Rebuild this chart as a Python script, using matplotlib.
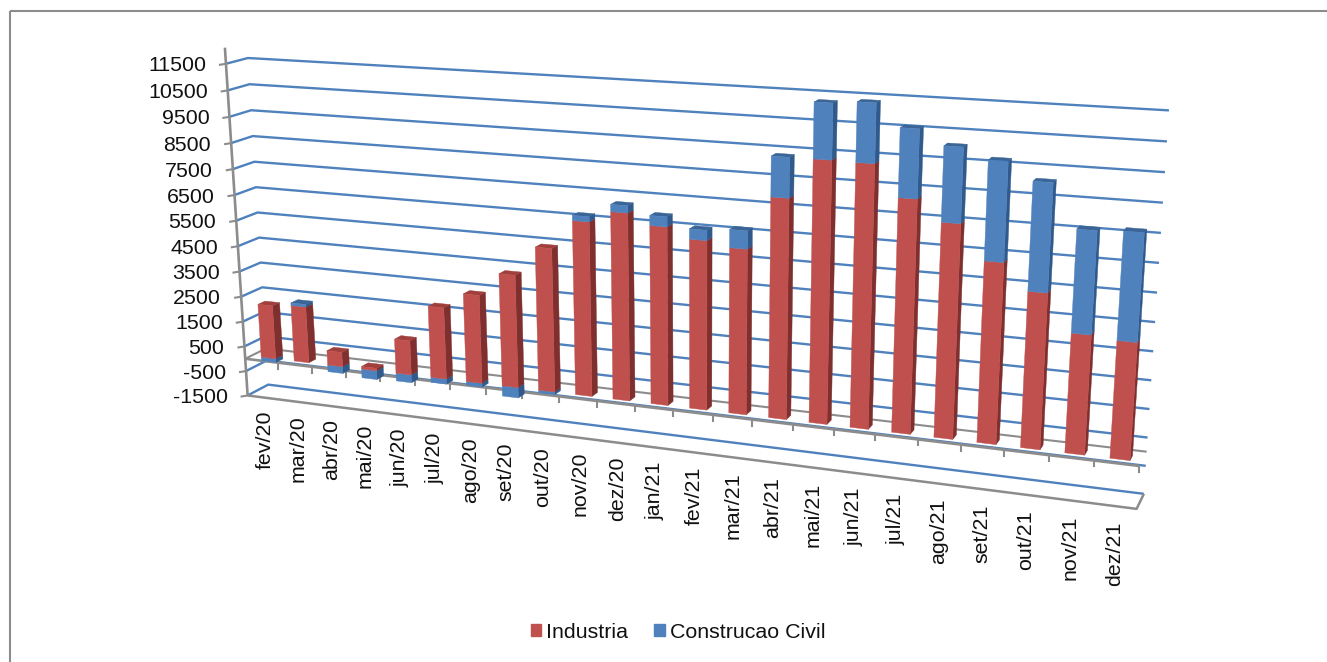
import numpy as np
import matplotlib
matplotlib.use("Agg")
import matplotlib.pyplot as plt
from matplotlib.patches import Patch, Rectangle

plt.rcParams['font.family'] = ['Liberation Sans', 'DejaVu Sans']

categories = ['fev/20','mar/20','abr/20','mai/20','jun/20','jul/20','ago/20','set/20','out/20','nov/20','dez/20',
              'jan/21','fev/21','mar/21','abr/21','mai/21','jun/21','jul/21','ago/21','set/21','out/21','nov/21','dez/21']
industria = [2130,2230,570,100,1340,2770,3390,4290,5420,6520,6960,6580,6210,6030,7940,9360,9340,8250,7530,6340,5440,4160,4060]
construcao = [-150,100,-270,-350,-310,-200,-150,-400,-100,190,265,360,370,650,1420,1935,2045,2360,2570,3390,3690,3500,3660]
y_ticks = [11500,10500,9500,8500,7500,6500,5500,4500,3500,2500,1500,500,-500,-1500]

W, H = 1327, 662
FS = 15.4
RED, RED_SIDE, RED_TOP = '#C0504D', '#7F2F2D', '#A03F3C'
BLUE, BLUE_SIDE, BLUE_TOP = '#4F81BD', '#2F5A8B', '#3A6596'
GRID = '#4F81BD'
AXIS = '#8C8C8C'
BAR_W = 0.44
BAR_C = 0.53
Z0, Z1 = 0.28, 0.62

# camera calibration: (category pos, value/1000, depth) -> figure pixel
calib = [
    (0,11.5,1,248,58),(0,-1.5,1,268,384),(23,11.5,1,1169,111),(23,-1.5,1,1144,494),
    (0,11.5,0,226,63),(0,-1.5,0,248,395),(23,-1.5,0,1138,508),
    (0,0,0,245.5,358),(23,0,0,1139,466),(1,0,0,278,365),(9,0,0,559,397),
    (14,0,0,752,420),(19,0,0,960,444),(21,0,0,1048,455),
]
A = []
for x, v, z, u, w in calib:
    p = [x, v, z, 1]
    A.append(p + [0,0,0,0] + [-u*c for c in p])
    A.append([0,0,0,0] + p + [-w*c for c in p])
P = np.linalg.svd(np.array(A, float))[2][-1].reshape(3,4)

def project(x, val, z):
    h = P @ np.array([x, val/1000.0, z, 1.0])
    return h[0]/h[2], h[1]/h[2]

fig = plt.figure(figsize=(W/100, H/100), dpi=100, facecolor='white')
ax = fig.add_axes([0,0,1,1])
ax.set_xlim(0, W); ax.set_ylim(H, 0); ax.axis('off')

# chart-area border
ax.add_patch(Rectangle((9.5,11), W+20, H+20, fill=False, ec='#8C8C8C', lw=1.5, zorder=0))

n = len(categories)
def line(pts, **kw):
    xs, ys = zip(*pts)
    ax.plot(xs, ys, solid_capstyle='butt', **kw)

# gridlines on side wall and back wall
for v in y_ticks:
    line([project(0,v,0), project(0,v,1), project(n,v,1)], color=GRID, lw=1.7, zorder=1)

# floor outline at axis minimum
vmin = min(y_ticks); vmax = max(y_ticks)
line([project(0,vmin,0), project(n,vmin,0), project(n,vmin,1)], color=AXIS, lw=1.8, zorder=1.5)
# zero plane
line([project(0,0,0), project(0,0,1), project(n,0,1)], color=AXIS, lw=1.5, zorder=1.2)
line([project(0,0,0), project(n,0,0)], color=AXIS, lw=1.9, zorder=1.6)
for i in range(1, n+1):
    x0, y0 = project(i,0,0)
    ax.plot([x0,x0],[y0,y0+6], color=AXIS, lw=1.5, zorder=1.6)

# value axis, ticks, labels
top = project(0, vmax+ 1000*0.6, 0)
line([top, project(0,vmin,0)], color=AXIS, lw=1.9, zorder=1.7)
for v in y_ticks:
    x0, y0 = project(0,v,0)
    ax.plot([x0-6,x0],[y0+1,y0], color=AXIS, lw=1.5, zorder=1.7)
    ax.text(x0-20, y0+2, str(v), ha='right', va='center', fontsize=FS, color='#111111')

# bars
def face(pts, color, zo):
    xs, ys = zip(*pts)
    ax.fill(xs, ys, color=color, lw=0.3, zorder=zo)

def box(i, lo, hi, front, side, topc, show_top, zo):
    a, b = i+BAR_C-BAR_W/2, i+BAR_C+BAR_W/2
    face([project(b,lo,Z0),project(b,hi,Z0),project(b,hi,Z1),project(b,lo,Z1)], side, zo)
    if show_top:
        face([project(a,hi,Z0),project(b,hi,Z0),project(b,hi,Z1),project(a,hi,Z1)], topc, zo)
    face([project(a,lo,Z0),project(b,lo,Z0),project(b,hi,Z0),project(a,hi,Z0)], front, zo+0.01)

for i, (r, c) in enumerate(zip(industria, construcao)):
    zo = 3 + i*0.1
    if c < 0:
        box(i, c, 0, BLUE, BLUE_SIDE, BLUE_TOP, False, zo)
        box(i, 0, r, RED, RED_SIDE, RED_TOP, True, zo)
    else:
        box(i, 0, r, RED, RED_SIDE, RED_TOP, False, zo)
        box(i, r, r+c, BLUE, BLUE_SIDE, BLUE_TOP, True, zo)

# category labels
for i, lab in enumerate(categories):
    x0, y0 = project(i+0.5, vmin, 0)
    ax.text(x0+1, y0+13+3*i/(n-1), lab, rotation=90, ha='center', va='top', fontsize=FS, color='#111111')

handles = [Patch(color=RED, label='Industria'), Patch(color=BLUE, label='Construcao Civil')]
ax.legend(handles=handles, loc='center', bbox_to_anchor=(678/W, 1-632/H), ncols=2, frameon=False, fontsize=FS,
          handlelength=0.51, handleheight=0.51, handletextpad=0.23, columnspacing=1.2, borderpad=0, labelcolor='#111111')

fig.savefig('out.png', dpi=100, facecolor='white')
